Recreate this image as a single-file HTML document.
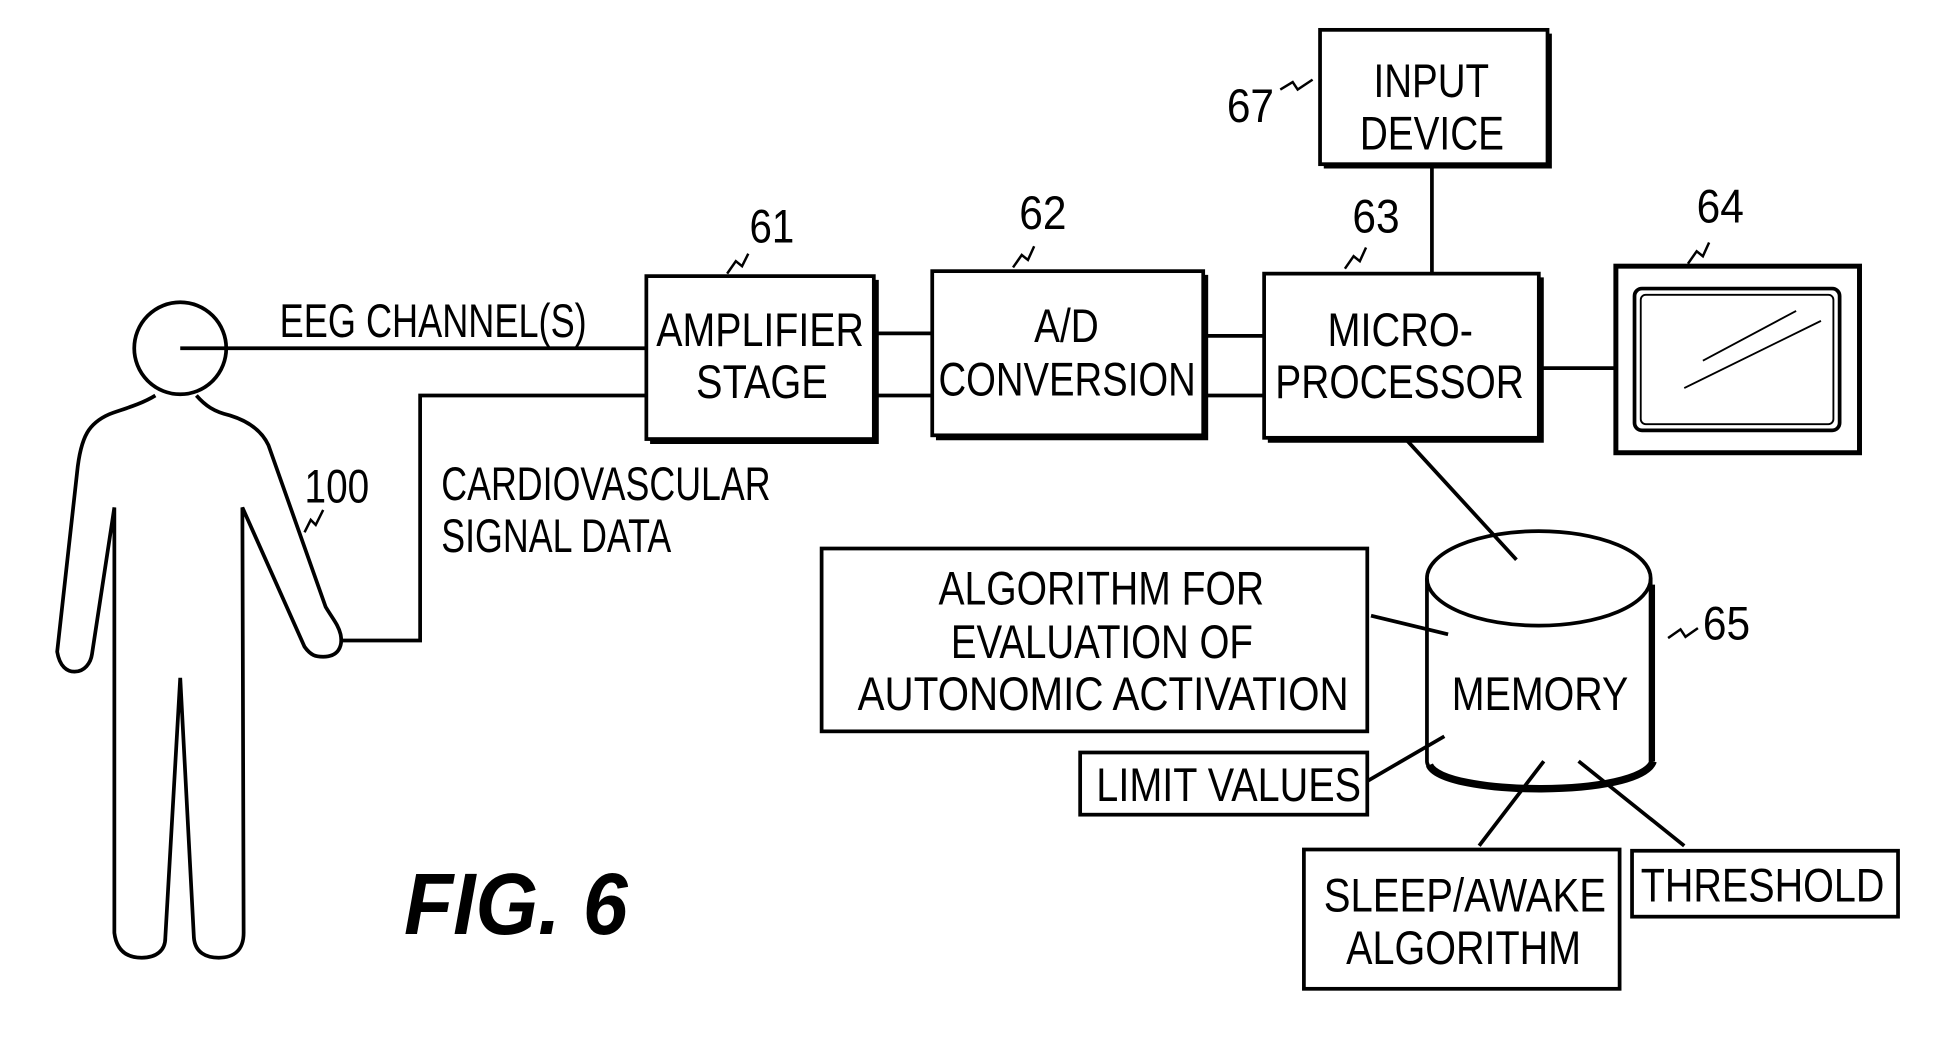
<!DOCTYPE html>
<html><head><meta charset="utf-8"><style>
html,body{margin:0;padding:0;background:#fff;}
svg{display:block;}
text{font-family:"Liberation Sans",sans-serif;fill:#000;}
</style></head><body>
<svg width="1949" height="1051" viewBox="0 0 1568 845" preserveAspectRatio="none" xmlns="http://www.w3.org/2000/svg">
<g fill="none" stroke="#000" stroke-width="3">
<!-- person -->
<circle cx="145" cy="280" r="37"/>
<path d="M125,318 C112,326 95,330 88,333 C72,340 65,350 62,380 L46,524 C48,536 54,540 60,540 C68,540 73,533 74,526 L92,408 L92,750 C94,766 104,770 114,770 C126,770 133,764 133,754 L145,545 L156,754 C157,766 166,770 176,770 C188,770 196,764 196,750 L195,408 L245,520 C250,527 254,528 260,528 C272,528 276,520 274,510 C272,502 268,498 262,488 L216,358 C210,345 198,338 185,334 C172,331 165,326 158,318"/>
<!-- connectors -->
<line x1="145" y1="280" x2="520" y2="280"/>
<polyline points="275,515 338,515 338,318 520,318"/>
<line x1="703" y1="268" x2="750" y2="268"/>
<line x1="703" y1="318" x2="750" y2="318"/>
<line x1="968" y1="270" x2="1017" y2="270"/>
<line x1="968" y1="318" x2="1017" y2="318"/>
<line x1="1238" y1="296" x2="1300" y2="296"/>
<line x1="1152" y1="132" x2="1152" y2="220"/>
<line x1="1130" y1="352" x2="1220" y2="450"/>
<line x1="1103" y1="495" x2="1165" y2="510"/>
<line x1="1100" y1="628" x2="1162" y2="592"/>
<line x1="1190" y1="680" x2="1242" y2="612"/>
<line x1="1355" y1="680" x2="1270" y2="612"/>
<!-- boxes -->
<rect x="520" y="222" width="183" height="131"/>
<polyline points="523,355 705,355 705,225" stroke-width="4"/>
<rect x="750" y="218" width="218" height="132"/>
<polyline points="753,352 970,352 970,221" stroke-width="4"/>
<rect x="1017" y="220" width="221" height="132"/>
<polyline points="1020,354 1240,354 1240,223" stroke-width="4"/>
<rect x="1062" y="24" width="183" height="108"/>
<polyline points="1065,134 1247,134 1247,27" stroke-width="3"/>
<rect x="1300" y="214" width="196" height="150" stroke-width="4"/>
<rect x="1315" y="232" width="165" height="114" rx="6"/>
<rect x="1320" y="237" width="155" height="104" rx="4" stroke-width="1.5"/>
<line x1="1370" y1="290" x2="1445" y2="250" stroke-width="1.5"/>
<line x1="1355" y1="312" x2="1465" y2="258" stroke-width="1.5"/>
<rect x="661" y="441" width="439" height="147"/>
<rect x="869" y="605" width="231" height="50"/>
<rect x="1049" y="683" width="254" height="112"/>
<rect x="1313" y="684" width="214" height="53"/>
<!-- cylinder -->
<path d="M1148,465 L1148,612 C1148,640 1328,640 1328,612 L1328,465"/>
<path d="M1150,615 C1160,640 1320,642 1330,612" stroke-width="6"/>
<line x1="1329" y1="470" x2="1329" y2="612" stroke-width="5"/>
<ellipse cx="1238" cy="465" rx="90" ry="38"/>
<!-- leader squiggles -->
<path d="M1030,72 L1040,66 L1044,72 L1056,64" stroke-width="2"/>
<path d="M585,220 L592,210 L597,214 L602,204" stroke-width="2"/>
<path d="M815,215 L822,205 L827,209 L832,198" stroke-width="2"/>
<path d="M1082,216 L1089,206 L1094,210 L1099,199" stroke-width="2"/>
<path d="M1358,212 L1365,202 L1370,206 L1375,195" stroke-width="2"/>
<path d="M1342,513 L1352,506 L1356,512 L1366,505" stroke-width="2"/>
<path d="M245,428 L250,418 L254,422 L260,410" stroke-width="2"/>
</g>
<g font-size="38">
<text x="225" y="271" textLength="247" lengthAdjust="spacingAndGlyphs">EEG CHANNEL(S)</text>
<text x="355" y="402" textLength="265" lengthAdjust="spacingAndGlyphs">CARDIOVASCULAR</text>
<text x="355" y="444" textLength="185" lengthAdjust="spacingAndGlyphs">SIGNAL DATA</text>
<text x="528" y="278" textLength="167" lengthAdjust="spacingAndGlyphs">AMPLIFIER</text>
<text x="560" y="320" textLength="106" lengthAdjust="spacingAndGlyphs">STAGE</text>
<text x="832" y="275" textLength="52" lengthAdjust="spacingAndGlyphs">A/D</text>
<text x="755" y="318" textLength="207" lengthAdjust="spacingAndGlyphs">CONVERSION</text>
<text x="1068" y="278" textLength="117" lengthAdjust="spacingAndGlyphs">MICRO-</text>
<text x="1026" y="320" textLength="200" lengthAdjust="spacingAndGlyphs">PROCESSOR</text>
<text x="1105" y="78" textLength="93" lengthAdjust="spacingAndGlyphs">INPUT</text>
<text x="1094" y="120" textLength="116" lengthAdjust="spacingAndGlyphs">DEVICE</text>
<text x="755" y="486" textLength="262" lengthAdjust="spacingAndGlyphs">ALGORITHM FOR</text>
<text x="765" y="529" textLength="243" lengthAdjust="spacingAndGlyphs">EVALUATION OF</text>
<text x="690" y="571" textLength="395" lengthAdjust="spacingAndGlyphs">AUTONOMIC  ACTIVATION</text>
<text x="1168" y="571" textLength="142" lengthAdjust="spacingAndGlyphs">MEMORY</text>
<text x="882" y="644" textLength="213" lengthAdjust="spacingAndGlyphs">LIMIT VALUES</text>
<text x="1065" y="733" textLength="227" lengthAdjust="spacingAndGlyphs">SLEEP/AWAKE</text>
<text x="1083" y="775" textLength="189" lengthAdjust="spacingAndGlyphs">ALGORITHM</text>
<text x="1320" y="725" textLength="196" lengthAdjust="spacingAndGlyphs">THRESHOLD</text>
<text x="987" y="98" textLength="38" lengthAdjust="spacingAndGlyphs">67</text>
<text x="603" y="195" textLength="36" lengthAdjust="spacingAndGlyphs">61</text>
<text x="820" y="184" textLength="38" lengthAdjust="spacingAndGlyphs">62</text>
<text x="1088" y="187" textLength="38" lengthAdjust="spacingAndGlyphs">63</text>
<text x="1365" y="179" textLength="38" lengthAdjust="spacingAndGlyphs">64</text>
<text x="1370" y="514" textLength="38" lengthAdjust="spacingAndGlyphs">65</text>
<text x="245" y="404" textLength="52" lengthAdjust="spacingAndGlyphs">100</text>
</g>
<text x="325" y="751" font-size="70" font-weight="bold" font-style="italic" textLength="180" lengthAdjust="spacingAndGlyphs">FIG. 6</text>
</svg>
</body></html>
